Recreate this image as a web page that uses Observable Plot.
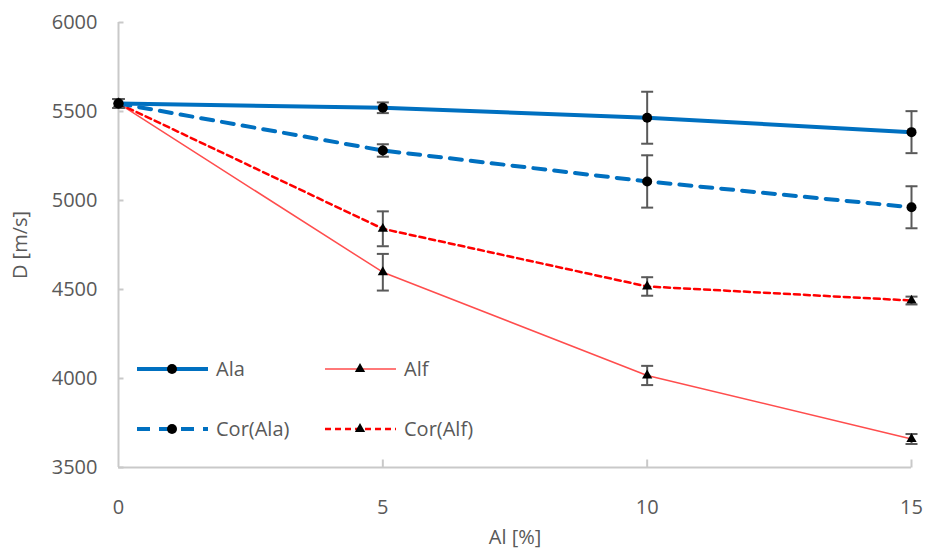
<!DOCTYPE html>
<html>
<head>
<meta charset="utf-8">
<script src="https://cdn.jsdelivr.net/npm/d3@7"></script>
<script src="https://cdn.jsdelivr.net/npm/@observablehq/plot@0.6"></script>
<style>
  html, body { margin: 0; padding: 0; background: white; }
  #wrap { position: relative; width: 925px; height: 551px; }
  #legend { position: absolute; left: 0; top: 0; pointer-events: none; }
</style>
</head>
<body>
<div id="wrap"></div>
<script>
// ---- data ----
const alPercent = [0, 5, 10, 15];
const seriesNames = ["Ala", "Alf", "Cor(Ala)", "Cor(Alf)"];
const alaD      = [5545, 5521, 5465, 5384];
const alaErr    = [25, 30, 146, 118];
const alfD      = [5545, 4597, 4017, 3660];
const alfErr    = [25, 103, 54, 28];
const corAlaD   = [5545, 5281, 5107, 4962];
const corAlaErr = [25, 35, 147, 118];
const corAlfD   = [5545, 4841, 4517, 4438];
const corAlfErr = [25, 98, 52, 22];
const xTicks = [0, 5, 10, 15];
const yTicks = [3500, 4000, 4500, 5000, 5500, 6000];

// ---- styles ----
const blue = "#0070C0";
const redDash = "#FF0000";
const redThin = "#FF4D4D";
const errColor = "#595959";
const axisColor = "#C9C9C9";
const textColor = "#595959";
const font = "'Open Sans', 'Segoe UI', sans-serif";

const rows = (vals, errs, name) => alPercent.map((x, i) => ({series: name, x, y: vals[i], err: errs[i]}));
const ala = rows(alaD, alaErr, seriesNames[0]);
const alf = rows(alfD, alfErr, seriesNames[1]);
const corAla = rows(corAlaD, corAlaErr, seriesNames[2]);
const corAlf = rows(corAlfD, corAlfErr, seriesNames[3]);
const all = [...ala, ...alf, ...corAla, ...corAlf];

const hline = {draw(ctx, size) { const r = Math.sqrt(size / Math.PI); ctx.moveTo(-r, 0); ctx.lineTo(r, 0); }};
const vline = {draw(ctx, size) { const r = Math.sqrt(size / Math.PI); ctx.moveTo(0, -r); ctx.lineTo(0, r); }};

const chart = Plot.plot({
  width: 925,
  height: 551,
  marginLeft: 118,
  marginRight: 14,
  marginTop: 22,
  marginBottom: 84,
  x: {domain: [0, 15]},
  y: {domain: [3500, 6000]},
  style: {fontFamily: font, fontSize: "20px", color: textColor, background: "white"},
  marks: [
    Plot.axisX({ticks: xTicks, tickFormat: d => String(d), tickSize: 0, tickPadding: 32, label: "Al [%]", labelAnchor: "center", labelOffset: 76, labelArrow: "none"}),
    Plot.axisY({ticks: yTicks, tickFormat: d => String(d), tickSize: 0, tickPadding: 21, label: "D [m/s]", labelAnchor: "center", labelOffset: 106, labelArrow: "none"}),
    Plot.ruleX([0], {stroke: axisColor, strokeWidth: 2}),
    Plot.ruleY([3500], {stroke: axisColor, strokeWidth: 2}),
    Plot.dot(xTicks.slice(1), {x: d => d, frameAnchor: "bottom", symbol: vline, r: 4, dy: -4, stroke: axisColor, strokeWidth: 2, fill: "none"}),
    Plot.dot(yTicks, {y: d => d, frameAnchor: "left", symbol: hline, r: 2.5, dx: 2.5, stroke: axisColor, strokeWidth: 2, fill: "none"}),
    Plot.line(alf, {x: "x", y: "y", stroke: redThin, strokeWidth: 1.5}),
    Plot.line(corAlf, {x: "x", y: "y", stroke: redDash, strokeWidth: 2.5, strokeDasharray: "6,4"}),
    Plot.line(corAla, {x: "x", y: "y", stroke: blue, strokeWidth: 4, strokeDasharray: "12,9"}),
    Plot.line(ala, {x: "x", y: "y", stroke: blue, strokeWidth: 4}),
    Plot.ruleX(all, {x: "x", y1: d => d.y - d.err, y2: d => d.y + d.err, stroke: errColor, strokeWidth: 2}),
    Plot.dot(all, {x: "x", y: d => d.y - d.err, symbol: hline, r: 6, stroke: errColor, strokeWidth: 2, fill: "none"}),
    Plot.dot(all, {x: "x", y: d => d.y + d.err, symbol: hline, r: 6, stroke: errColor, strokeWidth: 2, fill: "none"}),
    Plot.dot([...ala, ...corAla], {x: "x", y: "y", r: 5, fill: "black", stroke: "none"}),
    Plot.dot([...alf, ...corAlf], {x: "x", y: "y", symbol: "triangle", r: 3.8, fill: "black", stroke: "none"})
  ]
});

const wrap = document.getElementById("wrap");
wrap.appendChild(chart);

// ---- legend (inside plot area, lower left) ----
const legendSpec = [
  {name: seriesNames[0], x0: 137, y: 369, stroke: blue, w: 4, dash: null, marker: "circle"},
  {name: seriesNames[1], x0: 325, y: 369, stroke: redThin, w: 1.5, dash: null, marker: "triangle"},
  {name: seriesNames[2], x0: 137, y: 429, stroke: blue, w: 4, dash: "13,9", marker: "circle"},
  {name: seriesNames[3], x0: 325, y: 429, stroke: redDash, w: 2.5, dash: "6,4", marker: "triangle"}
];
const NS = "http://www.w3.org/2000/svg";
const lg = document.createElementNS(NS, "svg");
lg.setAttribute("id", "legend");
lg.setAttribute("width", 925);
lg.setAttribute("height", 551);
for (const s of legendSpec) {
  const line = document.createElementNS(NS, "line");
  line.setAttribute("x1", s.x0); line.setAttribute("x2", s.x0 + 71);
  line.setAttribute("y1", s.y); line.setAttribute("y2", s.y);
  line.setAttribute("stroke", s.stroke); line.setAttribute("stroke-width", s.w);
  if (s.dash) line.setAttribute("stroke-dasharray", s.dash);
  lg.appendChild(line);
  const cx = s.x0 + 35;
  if (s.marker === "circle") {
    const c = document.createElementNS(NS, "circle");
    c.setAttribute("cx", cx); c.setAttribute("cy", s.y); c.setAttribute("r", 5); c.setAttribute("fill", "black");
    lg.appendChild(c);
  } else {
    const p = document.createElementNS(NS, "path");
    p.setAttribute("d", d3.symbol(d3.symbolTriangle, 3.8 * 3.8 * Math.PI)());
    p.setAttribute("transform", `translate(${cx},${s.y})`);
    p.setAttribute("fill", "black");
    lg.appendChild(p);
  }
  const t = document.createElementNS(NS, "text");
  t.setAttribute("x", s.x0 + 79); t.setAttribute("y", s.y);
  t.setAttribute("dy", "0.35em");
  t.setAttribute("fill", textColor);
  t.setAttribute("font-family", font);
  t.setAttribute("font-size", "20px");
  t.textContent = s.name;
  lg.appendChild(t);
}
wrap.appendChild(lg);
</script>
</body>
</html>
